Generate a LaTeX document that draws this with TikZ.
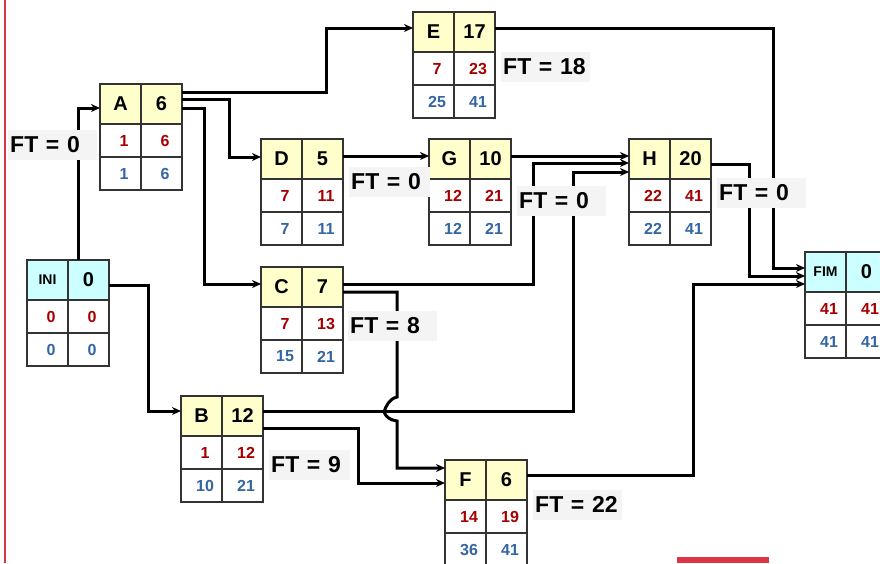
\documentclass[tikz,border=0pt]{standalone}
\usepackage{fontspec}
\setmainfont{Liberation Sans}
\usepackage{tikz}
\usetikzlibrary{arrows.meta}

\definecolor{hdryellow}{HTML}{FFFFCC}
\definecolor{hdrcyan}{HTML}{CCFFFF}
\definecolor{numred}{RGB}{165,0,0}
\definecolor{numblue}{RGB}{52,101,164}
\definecolor{boxline}{HTML}{333333}
\definecolor{ftgray}{HTML}{F4F4F4}
\definecolor{edgered}{HTML}{DC3545}

\newcommand{\tagfont}{\fontsize{14}{16}\selectfont}
% #1 id, #2 top left, #3 fill, #4 name, #5 duration, #6..#9 early/late start/finish
\newcommand{\actbox}[9]{%
  \node[hdr,fill=#3] (#1n) at #2 {#4};
  \node[hdr,fill=#3] (#1d) at (#1n.north east) {#5};
  \node[cell,text=numred] (#1es) at (#1n.south west) {#6};
  \node[cell,text=numred] (#1ef) at (#1es.north east) {#7};
  \node[cell,text=numblue] (#1ls) at (#1es.south west) {#8};
  \node[cell,text=numblue] (#1lf) at (#1ls.north east) {#9};
}

\begin{document}
\begin{tikzpicture}[x=1pt,y=-1pt,>={Stealth[length=9pt,width=8pt]},
  hdr/.style={draw=boxline,line width=1.2pt,minimum width=41pt,minimum height=40pt,
    inner sep=0pt,outer sep=0pt,anchor=north west,font=\bfseries\fontsize{20}{24}\selectfont},
  cell/.style={draw=boxline,fill=white,line width=1.2pt,minimum height=33pt,text width=30pt,
    inner xsep=5.5pt,inner ysep=0pt,outer sep=0pt,align=center,anchor=north west,
    execute at begin node=\hspace*{7pt},font=\bfseries\fontsize{16}{19}\selectfont},
  ft/.style={fill=ftgray,anchor=west,minimum height=30pt,text width=85pt,inner xsep=2pt,
    inner ysep=0pt,align=left,font=\bfseries\fontsize{23}{27}\selectfont},
  conn/.style={->,line width=3pt}]
\useasboundingbox (0,0) rectangle (880,563);
\draw[edgered,line width=1.2pt] (5,0) -- (5,563);
\fill[edgered] (677,557) rectangle (769,563);

\actbox{INI}{(27,260)}{hdrcyan}{\tagfont INI}{0}{0}{0}{0}{0}
\actbox{A}{(100,84)}{hdryellow}{A}{6}{1}{6}{1}{6}
\actbox{E}{(413,12)}{hdryellow}{E}{17}{7}{23}{25}{41}
\actbox{D}{(261,139)}{hdryellow}{D}{5}{7}{11}{7}{11}
\actbox{G}{(429,139)}{hdryellow}{G}{10}{12}{21}{12}{21}
\actbox{H}{(629,139)}{hdryellow}{H}{20}{22}{41}{22}{41}
\actbox{C}{(261,267)}{hdryellow}{C}{7}{7}{13}{15}{21}
\actbox{B}{(181,396)}{hdryellow}{B}{12}{1}{12}{10}{21}
\actbox{F}{(445,460)}{hdryellow}{F}{6}{14}{19}{36}{41}
\actbox{FIM}{(805,252)}{hdrcyan}{\tagfont FIM}{0}{41}{41}{41}{41}

\coordinate (jIB) at (148,350);
\coordinate (jAE) at (326,60);
\coordinate (jAD) at (229,130);
\coordinate (jAC) at (204,200);
\coordinate (jCH) at (533,220);
\coordinate (jBH) at (573,300);
\coordinate (jHF) at (749,220);
\coordinate (jEF) at (773,150);
\coordinate (jFF) at (693,380);
\coordinate (jBF) at (358,450);
\coordinate (hopC) at (397,397);

\draw[conn] ([xshift=10pt]INIn.north east) |- ([yshift=-4pt]An.west);
\draw[conn] ([yshift=-5pt]INId.east) -| (jIB) |- ([yshift=5pt]Bn.west);
\draw[conn] ([yshift=12pt]Ad.east) -| (jAE) |- ([yshift=4pt]En.west);
\draw[conn] ([yshift=5pt]Ad.east) -| (jAD) |- ([yshift=2pt]Dn.west);
\draw[conn] ([yshift=-4pt]Ad.east) -| (jAC) |- ([yshift=3pt]Cn.west);
\draw[conn] ([yshift=3pt]Dd.east) -- ([yshift=3pt]Gn.west);
\draw[conn] ([yshift=3pt]Gd.east) -- ([yshift=3pt]Hn.west);
\draw[conn] ([yshift=3pt]Cd.east) -| (jCH) |- ([yshift=-4pt]Hn.west);
\draw[conn] ([yshift=5pt]Bd.east) -| (jBH) |- ([yshift=-13pt]Hn.west);
\draw[conn] ([yshift=-5pt]Hd.east) -| (jHF) |- ([yshift=-4pt]FIMn.west);
\draw[conn] ([yshift=4pt]Ed.east) -| (jEF) |- ([yshift=4pt]FIMn.west);
\draw[conn] ([yshift=5pt]Fd.east) -| (jFF) |- ([yshift=-12pt]FIMn.west);
\draw[conn] ([yshift=-12pt]Bd.east) -| (jBF) |- ([yshift=-3pt]Fn.west);
\draw[conn] ([yshift=-5pt]Cd.east) -| (hopC)
  .. controls (389,399) and (386,406) .. (384,412)
  .. controls (386,417) and (390,420) .. (397,421) |- ([yshift=12pt]Fn.west);

\node[ft] (ftA) at (8,145) {FT = 0};
\node[ft] (ftE) at (501,66.5) {FT = 18};
\node[ft,text width=77pt] (ftD) at (349,182) {FT = 0};
\node[ft] (ftG) at (517,200.5) {FT = 0};
\node[ft] (ftH) at (717,192.5) {FT = 0};
\node[ft] (ftC) at (348,326) {FT = 8};
\node[ft,text width=77pt] (ftB) at (269,465) {FT = 9};
\node[ft] (ftF) at (533,504.5) {FT = 22};
\end{tikzpicture}
\end{document}
